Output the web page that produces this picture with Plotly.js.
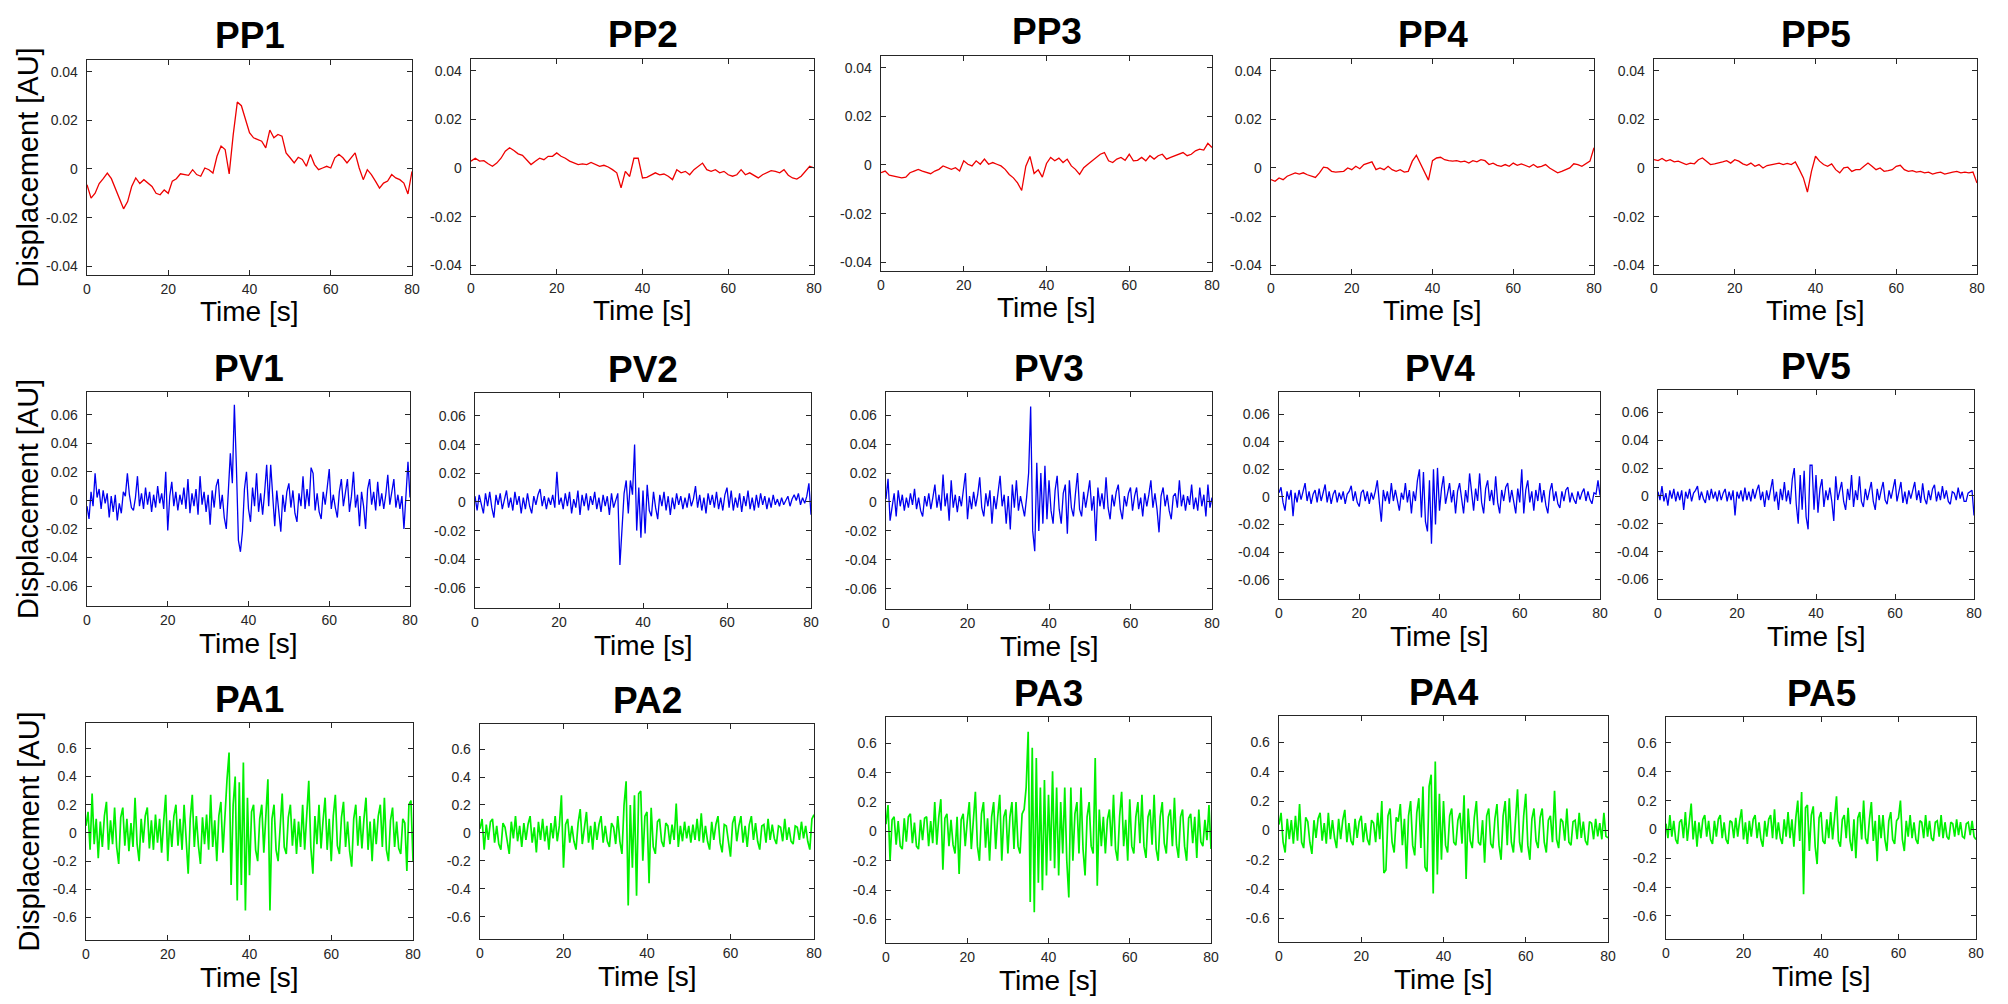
<!DOCTYPE html>
<html>
<head>
<meta charset="utf-8">
<script src="https://cdn.plot.ly/plotly-3.0.1.min.js"></script>
<style>
  body { margin: 0; background: #fff; }
  #myDiv { width: 2008px; height: 1004px; }
</style>
</head>
<body>
<div id="myDiv"></div>
<script>
// signals read off the picture, position (PP*) sampled every 1 s,
// velocity (PV*) and acceleration (PA*) every 0.5 s, all over 0..80 s
let pp1 = [
  -0.0065, -0.012, -0.010, -0.006, -0.004, -0.0017, -0.004, -0.008, -0.0127, -0.0164,
  -0.0134, -0.0072, -0.0037, -0.006, -0.0044, -0.006, -0.0072, -0.010, -0.0106, -0.0086,
  -0.010, -0.005, -0.004, -0.002, -0.0023, -0.0026, -0.0003, -0.0023, -0.003, 0.0004,
  -0.0003, -0.0017, 0.0052, 0.0094, 0.008, -0.002, 0.0142, 0.0275, 0.026, 0.0205,
  0.0149, 0.0128, 0.0121, 0.0114, 0.0087, 0.016, 0.0128, 0.0142, 0.0135, 0.0066,
  0.0046, 0.0025, 0.0048, 0.0039, 0.0011, 0.006, 0.0018, -0.0003, 0.0004, 0.0011,
  0.0004, 0.0046, 0.006, 0.0046, 0.0025, 0.0046, 0.0066, 0.0004, -0.0044, -0.0003,
  -0.0023, -0.005, -0.0079, -0.0058, -0.005, -0.0023, -0.0037, -0.0044, -0.0058, -0.0103,
  -0.001
];
let pp2 = [
  0.0028, 0.004, 0.0028, 0.003, 0.0017, 0.0007, 0.002, 0.004, 0.0069, 0.0083,
  0.0072, 0.0058, 0.0052, 0.0034, 0.0014, 0.0028, 0.004, 0.0034, 0.0048, 0.0048,
  0.0062, 0.0048, 0.004, 0.0028, 0.002, 0.0014, 0.0017, 0.0014, 0.0023, 0.0014,
  0.0007, 0.0011, 0.0004, -0.0007, -0.002, -0.0082, -0.0014, -0.0035, 0.004, 0.004,
  -0.0041, -0.0039, -0.0028, -0.002, -0.0028, -0.0025, -0.0034, -0.0048, -0.0007, -0.002,
  -0.0014, -0.0028, -0.0007, 0.0007, 0.002, -0.0007, -0.0014, -0.0007, -0.002, -0.0014,
  -0.0028, -0.0034, -0.0028, -0.0007, -0.0028, -0.002, -0.003, -0.0041, -0.0028, -0.002,
  -0.0011, -0.0014, -0.002, -0.0007, -0.003, -0.0041, -0.0046, -0.0034, -0.0014, 0.0007,
  0
];
let pp3 = [
  -0.0032, -0.0025, -0.0042, -0.0046, -0.005, -0.0053, -0.005, -0.0032, -0.0025, -0.0018,
  -0.0025, -0.0032, -0.0036, -0.0025, -0.0018, -0.0004, -0.0011, -0.0018, -0.0011, -0.0025,
  0.0017, 0.0003, -0.0004, 0.0017, 0.0003, 0.0024, 0.0003, 0.001, 0.0003, -0.0004,
  -0.0018, -0.0039, -0.0053, -0.0074, -0.0105, -0.0005, 0.0035, -0.0035, -0.002, -0.005,
  0.0006, 0.0031, 0.0017, 0.0028, 0.001, 0.0024, -0.0004, -0.0018, -0.0039, -0.0011,
  0.0003, 0.0017, 0.0031, 0.0044, 0.0051, 0.0017, 0.001, 0.0024, 0.0031, 0.0019,
  0.0044, 0.0017, 0.0019, 0.0031, 0.0017, 0.0038, 0.0024, 0.0038, 0.0044, 0.0024,
  0.0031, 0.0038, 0.0044, 0.0051, 0.0038, 0.0044, 0.0058, 0.0065, 0.0061, 0.0089,
  0.0072
];
let pp4 = [
  -0.0048, -0.0055, -0.0041, -0.0048, -0.0034, -0.0028, -0.002, -0.0025, -0.002, -0.0028,
  -0.0034, -0.0039, -0.002, 0.0003, 0, -0.0014, -0.0017, -0.0014, -0.0014, 0,
  -0.0007, 0.0007, -0.0003, 0.0014, 0.002, 0.0025, -0.0007, 0, -0.0007, 0.0007,
  -0.0007, -0.0014, -0.0007, -0.0017, -0.0014, 0.0028, 0.0052, 0.002, -0.0015, -0.005,
  0.003, 0.0041, 0.0044, 0.0034, 0.003, 0.0028, 0.003, 0.0025, 0.0028, 0.002,
  0.003, 0.0025, 0.0034, 0.003, 0.0014, 0.002, 0.0011, 0.0007, 0.0014, 0.0007,
  0.002, 0.0011, 0.0017, 0.001, 0.0004, 0.0014, 0.0003, 0.0007, 0.0014, 0,
  -0.0011, -0.002, -0.0014, -0.0007, 0, 0.0017, 0.0014, 0.0007, 0.0017, 0.0028,
  0.0083
];
let pp5 = [
  0.0034, 0.003, 0.0039, 0.0028, 0.0034, 0.0025, 0.0028, 0.002, 0.0014, 0.002,
  0.0017, 0.0034, 0.0041, 0.0028, 0.0014, 0.0017, 0.002, 0.0025, 0.003, 0.002,
  0.0034, 0.0028, 0.0017, 0.0011, 0.002, 0.0007, 0.0014, 0, 0.001, 0.0014,
  0.0017, 0.002, 0.0014, 0.0019, 0.0014, 0.0025, -0.0007, -0.0041, -0.0099, -0.0014,
  0.0048, 0.0028, 0.0014, 0.0007, 0.0017, -0.0007, -0.002, 0, 0.0003, -0.0014,
  -0.0007, -0.0007, 0.0007, 0.002, 0.0007, -0.0007, 0, -0.0014, -0.0011, -0.0007,
  0.0007, 0.0011, -0.0007, -0.0014, -0.0011, -0.0017, -0.0014, -0.002, -0.0017, -0.0025,
  -0.002, -0.0017, -0.0025, -0.002, -0.0017, -0.0014, -0.002, -0.0017, -0.002, -0.0017,
  -0.0062
];

let pv1 = [
  -0.004, -0.013, 0.006, -0.004, 0.019, 0.002, 0.008, -0.006, 0.007, -0.002,
  0.005, -0.012, 0.003, -0.008, 0.004, -0.014, -0.002, -0.009, 0.006, 0.003,
  0.019, 0.004, -0.005, -0.007, 0.002, 0.017, -0.004, 0.005, -0.006, 0.009,
  -0.003, 0.006, -0.008, 0.004, -0.005, 0.01, -0.002, 0.005, -0.006, 0.02,
  -0.021, 0.003, 0.013, -0.004, 0.006, -0.007, 0.004, -0.003, 0.009, -0.006,
  0.015, -0.009, 0.005, -0.004, 0.008, -0.01, 0.017, -0.003, 0.006, -0.008,
  0.004, -0.017, 0.007, -0.005, 0.01, 0.015, -0.006, 0.004, -0.012, -0.02,
  0.006, 0.033, 0.012, 0.067, 0.024, -0.028, -0.036, -0.022, 0.008, 0.02,
  -0.006, -0.015, 0.009, -0.004, 0.019, -0.008, 0.005, -0.01, 0.006, 0.025,
  -0.004, 0.025, 0.003, -0.018, 0.007, -0.006, -0.022, 0.004, -0.008, 0.006,
  0.012, -0.005, 0.007, -0.009, -0.015, 0.005, -0.004, 0.017, -0.006, 0.008,
  -0.004, 0.023, 0.019, -0.007, 0.005, -0.008, -0.013, 0.006, -0.003, 0.009,
  0.022, -0.006, 0.004, -0.005, -0.012, 0.006, 0.015, -0.004, 0.007, 0.015,
  -0.008, 0.003, 0.02, -0.005, 0.004, -0.018, 0.006, -0.004, -0.02, 0.008,
  0.015, -0.003, 0.006, -0.007, 0.013, -0.004, 0.005, -0.006, 0.004, 0.018,
  -0.003, 0.006, 0.015, -0.005, 0.004, -0.006, 0.003, -0.02, 0.008, 0.027,
  0.002
];
let pv2 = [
  0.004, -0.006, 0.005, -0.002, -0.008, 0.006, -0.003, 0.007, -0.004, -0.011,
  0.005, -0.002, 0.006, -0.005, 0.002, 0.008, -0.004, 0.003, -0.006, 0.007,
  -0.002, 0.004, -0.008, 0.003, -0.005, 0.006, -0.003, -0.008, 0.004, -0.002,
  0.005, 0.009, -0.003, 0.004, -0.005, 0.003, -0.002, 0.005, -0.004, 0.021,
  -0.002, 0.003, -0.005, 0.006, -0.003, 0.007, -0.008, 0.002, -0.004, 0.008,
  -0.009, 0.005, -0.003, 0.006, -0.006, 0.004, -0.002, 0.007, -0.005, 0.003,
  -0.007, 0.005, -0.003, 0.004, -0.009, 0.006, -0.004, 0.002, 0.006, -0.044,
  -0.018, 0.006, 0.015, -0.008, 0.015, 0.005, 0.04, -0.02, 0.01, -0.025,
  0.008, -0.022, 0.012, -0.006, -0.01, 0.007, -0.004, -0.012, 0.005, -0.003,
  0.007, -0.006, 0.004, -0.009, 0.003, -0.005, 0.006, -0.002, 0.004, -0.005,
  0.003, -0.004, 0.006, -0.003, 0.002, 0.011, -0.004, 0.005, -0.006, 0.003,
  -0.008, 0.006, -0.002, 0.005, -0.004, 0.007, -0.005, 0.003, -0.006, 0.005,
  0.01, -0.004, 0.008, -0.006, 0.003, -0.004, 0.006, -0.007, 0.004, -0.003,
  0.008, -0.005, 0.003, -0.006, 0.005, -0.004, 0.006, -0.002, 0.004, -0.005,
  0.003, -0.004, 0.005, -0.002, 0.002, -0.003, 0.003, -0.002, 0.001, 0.004,
  -0.003, 0.002, 0.005, 0.001, 0.006, -0.002, 0.003, -0.001, 0.004, 0.013,
  -0.009
];
let pv3 = [
  0.002, 0.016, -0.013, -0.004, 0.006, -0.01, 0.008, -0.003, 0.005, -0.006,
  0.003, -0.004, 0.006, -0.002, 0.009, -0.005, 0.003, -0.006, -0.01, 0.004,
  -0.003, 0.006, -0.005, 0.003, 0.012, -0.004, 0.005, -0.006, 0.019, -0.003,
  0.006, -0.013, 0.015, -0.004, 0.005, -0.007, 0.004, -0.003, 0.007, 0.02,
  -0.012, 0.004, -0.005, 0.007, -0.003, 0.005, 0.017, -0.004, -0.01, 0.006,
  -0.003, 0.008, -0.015, 0.004, -0.005, 0.006, 0.018, -0.003, 0.005, -0.015,
  0.004, -0.019, 0.012, -0.004, 0.015, -0.006, 0.004, -0.003, -0.01, 0.003,
  0.02, 0.066, -0.02, -0.034, 0.027, -0.02, 0.02, -0.015, 0.025, -0.012,
  0.015, -0.006, -0.015, 0.008, 0.018, -0.005, -0.015, 0.006, 0.012, -0.022,
  0.015, -0.004, -0.01, 0.006, 0.02, -0.005, -0.01, 0.007, -0.004, 0.005,
  0.015, -0.006, 0.004, -0.027, 0.01, -0.003, 0.006, -0.005, 0.017, -0.004,
  -0.012, 0.005, -0.003, 0.007, 0.012, -0.005, -0.012, 0.004, -0.003, 0.006,
  0.01, -0.006, 0.004, 0.01, -0.005, 0.003, -0.01, 0.006, -0.003, 0.005,
  0.015, -0.004, 0.006, -0.005, -0.021, 0.004, 0.01, -0.003, 0.005, -0.006,
  -0.012, 0.004, 0.006, -0.004, 0.015, -0.003, 0.005, -0.006, 0.004, -0.002,
  0.012, -0.005, 0.003, -0.006, 0.01, -0.003, 0.005, -0.01, 0.012, -0.004,
  0.003
];
let pv4 = [
  0.003, 0.007, -0.004, -0.01, 0.004, -0.002, 0.005, -0.014, 0.003, -0.004,
  0.005, -0.002, 0.004, 0.01, -0.003, 0.004, -0.005, 0.002, 0.005, -0.004,
  0.006, -0.003, 0.003, 0.009, -0.004, 0.004, -0.005, 0.002, 0.005, -0.004,
  0.003, -0.002, 0.004, -0.005, 0.002, 0.004, 0.008, -0.003, 0.004, -0.004,
  -0.007, 0.003, 0.005, -0.003, 0.004, -0.005, 0.003, -0.002, 0.004, 0.012,
  -0.004, -0.018, 0.005, -0.003, 0.004, -0.005, 0.01, -0.003, 0.005, -0.004,
  -0.01, 0.003, -0.002, 0.01, -0.004, 0.005, -0.012, 0.004, -0.003, 0.012,
  0.02, -0.015, 0.018, -0.018, -0.025, 0.012, -0.034, 0.02, -0.02, 0.021,
  -0.01, 0.006, 0.015, -0.005, 0.004, 0.01, -0.004, 0.005, -0.012, 0.004,
  0.01, -0.003, -0.012, 0.005, -0.004, 0.017, 0.003, -0.01, 0.006, -0.003,
  0.017, -0.004, -0.012, 0.006, 0.012, -0.003, 0.005, -0.006, 0.015, -0.004,
  -0.012, 0.005, -0.003, 0.007, 0.01, -0.004, 0.005, -0.003, -0.012, 0.006,
  -0.004, 0.02, -0.012, 0.005, 0.012, -0.004, 0.004, -0.01, 0.005, -0.003,
  0.01, -0.004, 0.005, -0.006, -0.012, 0.004, 0.01, -0.003, 0.004, -0.005,
  -0.008, 0.004, -0.003, 0.005, 0.007, -0.004, 0.003, -0.002, -0.005, 0.004,
  -0.002, 0.003, 0.006, -0.003, 0.004, -0.002, -0.005, 0.003, 0.002, 0.012,
  0.001
];
let pv5 = [
  0.003, -0.003, 0.007, -0.004, 0.002, -0.007, 0.004, -0.002, 0.005, -0.004,
  0.003, -0.003, 0.004, -0.01, 0.003, -0.002, 0.005, -0.004, 0.002, 0.004,
  0.007, -0.003, 0.003, -0.002, -0.005, 0.004, -0.003, 0.005, -0.002, 0.003,
  -0.004, 0.004, -0.003, 0.002, 0.005, -0.004, 0.003, -0.003, 0.004, -0.014,
  0.003, -0.002, 0.004, -0.004, 0.006, -0.003, 0.003, -0.004, 0.005, -0.002,
  0.004, 0.008, -0.003, 0.003, -0.008, 0.004, -0.003, 0.005, 0.012, -0.004,
  0.003, -0.01, 0.005, -0.003, 0.01, -0.004, 0.004, -0.006, 0.012, 0.02,
  -0.006, -0.02, 0.015, -0.01, 0.018, -0.015, -0.024, 0.022, 0.022, -0.01,
  0.015, -0.012, 0.005, 0.012, -0.008, 0.004, -0.003, 0.006, -0.004, -0.018,
  0.014, -0.003, 0.004, 0.01, -0.004, -0.01, 0.005, -0.003, 0.015, -0.008,
  0.004, -0.003, 0.014, -0.004, -0.008, 0.005, -0.003, 0.004, 0.01, -0.004,
  -0.01, 0.005, -0.003, 0.004, 0.01, -0.003, -0.006, 0.004, -0.002, 0.005,
  0.012, -0.004, 0.003, 0.01, -0.005, 0.003, -0.006, 0.004, -0.002, 0.005,
  0.01, -0.003, 0.004, -0.005, 0.009, -0.002, -0.006, 0.004, -0.003, 0.005,
  0.008, -0.004, 0.003, -0.003, 0.007, -0.002, 0.004, -0.004, -0.006, 0.003,
  0.002, -0.003, 0.006, -0.002, 0.003, -0.004, -0.004, 0.002, 0.003, 0.004,
  -0.014
];

let pa1 = [
  0.05, 0.15, -0.12, 0.28, -0.08, 0.1, -0.18, 0.08, -0.1, 0.12,
  0.22, -0.12, 0.09, -0.08, 0.18, -0.1, -0.22, 0.11, 0.18, -0.09,
  0.1, -0.13, 0.07, -0.1, 0.25, -0.08, -0.2, 0.1, -0.07, 0.12,
  0.18, -0.11, 0.09, -0.12, 0.13, -0.07, 0.1, -0.14, 0.08, 0.27,
  -0.2, 0.09, -0.1, 0.12, 0.2, -0.09, 0.1, -0.12, 0.2, -0.08,
  -0.29, 0.1, 0.27, -0.1, 0.12, -0.09, -0.22, 0.11, -0.08, 0.13,
  -0.12, 0.27, -0.1, 0.09, -0.2, 0.12, 0.22, -0.14, 0.15, 0.38,
  0.57, -0.37, 0.2, 0.4, -0.48, 0.36, -0.37, 0.5, -0.55, 0.25,
  -0.3, 0.15, 0.2, -0.12, -0.2, 0.1, 0.2, -0.14, 0.12, 0.38,
  -0.55, 0.1, 0.2, -0.12, -0.2, 0.09, 0.28, -0.1, -0.15, 0.11,
  0.2, -0.09, 0.1, -0.15, 0.08, -0.1, 0.2, -0.12, 0.1, 0.37,
  -0.1, -0.29, 0.12, -0.08, 0.2, -0.11, 0.09, 0.25, -0.12, 0.1,
  -0.2, 0.12, 0.27, -0.09, -0.15, 0.11, 0.22, -0.1, 0.08, -0.13,
  -0.24, 0.1, 0.2, -0.09, 0.12, -0.11, 0.1, 0.25, -0.12, 0.08,
  -0.2, 0.1, -0.08, 0.12, 0.2, -0.1, 0.25, -0.12, -0.2, 0.09,
  0.18, -0.1, 0.08, -0.11, -0.15, 0.1, 0.07, -0.27, 0.2, 0.23,
  -0.2
];
let pa2 = [
  0.03, 0.1, -0.12, 0.06, -0.05, 0.08, 0.1, -0.07, 0.05, -0.08,
  -0.12, 0.07, 0.04, -0.06, -0.15, 0.08, -0.04, 0.12, -0.06, 0.05,
  -0.1, 0.07, -0.05, 0.06, 0.12, -0.07, 0.04, -0.14, 0.08, -0.05,
  0.1, -0.06, 0.05, -0.12, 0.07, -0.04, 0.12, -0.06, 0.05, 0.27,
  -0.25, 0.06, 0.1, -0.07, 0.05, -0.06, -0.12, 0.07, 0.17, -0.08,
  0.06, 0.15, -0.07, 0.05, -0.12, 0.08, -0.05, 0.06, 0.12, -0.07,
  0.05, -0.06, -0.1, 0.07, 0.04, -0.08, 0.12, -0.06, -0.15, 0.2,
  0.37, -0.52, 0.2, -0.25, 0.27, -0.45, 0.28, 0.3, -0.2, 0.12,
  0.15, -0.36, 0.18, -0.1, -0.15, 0.08, 0.1, -0.06, -0.1, 0.07,
  0.05, -0.08, 0.06, -0.05, 0.21, -0.1, 0.05, -0.06, 0.08, -0.04,
  0.05, -0.07, 0.06, -0.05, 0.1, -0.06, 0.14, -0.07, 0.05, -0.06,
  -0.12, 0.08, -0.05, 0.06, 0.12, -0.07, -0.14, 0.06, 0.05, -0.08,
  -0.17, 0.07, 0.12, -0.06, 0.05, 0.12, -0.07, 0.05, -0.1, 0.06,
  0.12, -0.05, 0.07, -0.06, -0.12, 0.05, 0.06, -0.07, 0.1, -0.05,
  0.06, -0.04, -0.08, 0.05, 0.04, -0.06, 0.1, -0.05, 0.04, -0.06,
  -0.08, 0.05, 0.04, -0.05, 0.08, -0.04, 0.05, -0.06, -0.12, 0.1,
  0.13
];
let pa3 = [
  0.05, 0.18, -0.2, 0.08, 0.1, -0.09, 0.07, -0.1, -0.12, 0.09,
  -0.07, 0.1, 0.12, -0.08, 0.06, -0.1, -0.12, 0.08, -0.06, 0.09,
  0.1, -0.1, 0.07, -0.08, 0.2, -0.09, 0.1, 0.22, -0.26, 0.09,
  0.12, -0.1, 0.08, -0.09, -0.15, 0.1, -0.29, 0.08, 0.12, -0.1,
  0.07, 0.2, -0.12, 0.1, 0.27, -0.1, -0.2, 0.12, 0.2, -0.11,
  0.09, -0.2, 0.1, 0.2, -0.12, 0.1, 0.25, -0.2, 0.1, 0.15,
  -0.15, 0.1, 0.2, -0.12, 0.2, -0.1, -0.15, 0.12, 0.15, 0.3,
  0.68, -0.48, 0.57, -0.55, 0.5, -0.35, 0.3, -0.4, 0.35, -0.3,
  0.25, -0.2, 0.41, -0.25, 0.3, -0.3, 0.2, -0.15, 0.3, -0.2,
  -0.45, 0.3, -0.2, 0.12, 0.2, -0.15, 0.3, -0.12, -0.3, 0.1,
  0.2, -0.1, -0.15, 0.5, -0.37, 0.15, -0.1, 0.1, -0.15, 0.08,
  0.15, -0.1, 0.25, -0.12, -0.2, 0.1, 0.27, -0.1, 0.08, -0.2,
  0.22, -0.1, -0.15, 0.1, 0.2, -0.08, 0.25, -0.1, -0.18, 0.1,
  0.15, -0.09, 0.25, -0.12, -0.2, 0.1, 0.2, -0.08, -0.15, 0.1,
  0.15, -0.1, 0.23, -0.09, -0.18, 0.1, 0.15, -0.1, -0.2, 0.09,
  0.12, -0.08, 0.1, -0.18, 0.15, -0.07, -0.1, 0.08, -0.06, 0.18,
  -0.12
];
let pa4 = [
  0.04, 0.12, -0.08, -0.15, 0.08, -0.06, 0.07, -0.09, 0.1, -0.07,
  0.18, -0.08, -0.12, 0.09, 0.06, -0.08, -0.16, 0.07, -0.05, 0.08,
  0.12, -0.07, 0.05, -0.09, 0.12, -0.06, 0.07, -0.05, -0.12, 0.08,
  -0.06, 0.07, 0.14, -0.08, 0.05, -0.07, -0.1, 0.08, -0.05, 0.06,
  0.1, -0.08, 0.05, -0.06, -0.1, 0.07, 0.05, -0.08, 0.12, -0.06,
  0.2, -0.29, -0.27, 0.1, 0.15, -0.08, -0.15, 0.09, 0.06, 0.18,
  -0.1, 0.08, -0.26, 0.1, 0.2, -0.1, -0.17, 0.12, 0.22, -0.12,
  0.3, -0.25, -0.28, 0.3, 0.38, -0.43, 0.47, -0.3, 0.25, -0.2,
  0.2, -0.1, -0.15, 0.1, 0.15, -0.08, -0.1, 0.07, 0.12, -0.09,
  0.24, -0.33, 0.15, -0.07, -0.12, 0.09, 0.2, -0.08, -0.1, 0.07,
  -0.22, 0.1, 0.15, -0.09, -0.12, 0.08, 0.18, -0.1, -0.2, 0.1,
  0.2, -0.1, 0.22, -0.08, -0.15, 0.1, 0.28, -0.08, -0.15, 0.1,
  0.25, -0.1, -0.2, 0.08, 0.15, -0.07, -0.12, 0.09, 0.15, -0.08,
  -0.15, 0.07, 0.1, -0.08, 0.27, -0.06, -0.12, 0.08, 0.06, -0.07,
  0.15, -0.08, -0.1, 0.06, 0.07, -0.06, 0.12, -0.05, 0.06, -0.07,
  -0.1, 0.06, 0.05, -0.06, 0.08, -0.04, 0.05, -0.06, 0.12, -0.04,
  -0.05
];
let pa5 = [
  0.04, -0.06, 0.1, -0.05, 0.06, -0.07, -0.1, 0.05, 0.07, -0.06,
  0.12, -0.08, 0.05, 0.18, -0.07, 0.06, -0.12, 0.05, -0.06, 0.07,
  0.1, -0.05, 0.06, -0.07, -0.1, 0.06, -0.05, 0.07, 0.1, -0.06,
  0.05, -0.07, -0.1, 0.06, 0.05, -0.06, 0.08, -0.05, 0.06, 0.14,
  -0.07, 0.05, -0.1, 0.06, -0.05, 0.07, 0.1, -0.06, 0.05, -0.07,
  -0.12, 0.06, -0.05, 0.07, 0.1, -0.06, 0.14, -0.07, 0.05, -0.06,
  -0.1, 0.07, -0.05, 0.12, -0.06, 0.07, -0.12, 0.08, 0.2, -0.08,
  0.26, -0.45, 0.15, 0.17, -0.15, 0.1, 0.16, -0.12, -0.24, 0.08,
  0.12, -0.08, -0.1, 0.07, -0.06, 0.12, -0.07, 0.08, 0.23, -0.08,
  -0.12, 0.07, 0.1, -0.06, 0.15, -0.08, -0.15, 0.07, -0.2, 0.08,
  0.12, -0.07, 0.2, -0.06, -0.1, 0.07, 0.19, -0.08, 0.06, -0.22,
  0.1, -0.06, 0.1, -0.07, -0.15, 0.06, 0.12, -0.07, -0.1, 0.06,
  0.08, 0.2, -0.07, -0.15, 0.06, -0.05, 0.1, -0.06, 0.05, -0.07,
  -0.1, 0.06, 0.05, -0.06, 0.1, -0.05, 0.06, -0.06, -0.08, 0.05,
  0.06, -0.05, 0.1, -0.06, 0.05, -0.05, -0.07, 0.05, 0.04, -0.05,
  0.07, -0.04, 0.05, -0.05, -0.06, 0.04, 0.05, -0.04, 0.06, -0.05,
  -0.07
];

let titles = ["PP1", "PP2", "PP3", "PP4", "PP5",
              "PV1", "PV2", "PV3", "PV4", "PV5",
              "PA1", "PA2", "PA3", "PA4", "PA5"];
let signals = [pp1, pp2, pp3, pp4, pp5, pv1, pv2, pv3, pv4, pv5, pa1, pa2, pa3, pa4, pa5];

let xTicks = [0, 20, 40, 60, 80];
let xTickText = ["0", "20", "40", "60", "80"];
let ppTicks = [-0.04, -0.02, 0, 0.02, 0.04];
let ppTickText = ["-0.04", "-0.02", "0", "0.02", "0.04"];
let pvTicks = [-0.06, -0.04, -0.02, 0, 0.02, 0.04, 0.06];
let pvTickText = ["-0.06", "-0.04", "-0.02", "0", "0.02", "0.04", "0.06"];
let paTicks = [-0.6, -0.4, -0.2, 0, 0.2, 0.4, 0.6];
let paTickText = ["-0.6", "-0.4", "-0.2", "0", "0.2", "0.4", "0.6"];

let xLabel = "Time [s]";
let yLabel = "Displacement [AU]";

// layout only from here on
const W = 2008, H = 1004;
const font = "Liberation Sans, Arial, Helvetica, sans-serif";
const ink = "#262626";

// plot frames in page pixels: [left, top, right, bottom]
const frames = [
  [87, 60, 412, 275], [471, 59, 814, 274], [881, 56, 1212, 271], [1271, 59, 1594, 274], [1654, 59, 1977, 274],
  [87, 392, 410, 606], [475, 393, 811, 608], [886, 392, 1212, 609], [1279, 392, 1600, 599], [1658, 390, 1974, 599],
  [86, 723, 413, 940], [480, 724, 814, 939], [886, 717, 1211, 943], [1279, 716, 1608, 942], [1666, 717, 1976, 939]
];
const rows = [
  { range: [-0.0436, 0.0448], ticks: ppTicks, text: ppTickText, color: "#ee0000", width: 1.3 },
  { range: [-0.074, 0.076], ticks: pvTicks, text: pvTickText, color: "#0000f0", width: 1.3 },
  { range: [-0.76, 0.78], ticks: paTicks, text: paTickText, color: "#00f000", width: 1.7 }
];

let data = [];
let layout = {
  width: W,
  height: H,
  autosize: false,
  margin: { l: 0, r: 0, t: 0, b: 0 },
  paper_bgcolor: "#fff",
  plot_bgcolor: "#fff",
  showlegend: false,
  annotations: []
};

function px(x) { return x / W; }
function py(y) { return 1 - y / H; }

signals.forEach((ys, k) => {
  let n = k + 1;
  let row = rows[Math.floor(k / 5)];
  let f = frames[k];
  let dt = 80 / (ys.length - 1);
  let ts = ys.map((_, i) => i * dt);

  data.push({
    x: ts,
    y: ys,
    xaxis: n === 1 ? "x" : "x" + n,
    yaxis: n === 1 ? "y" : "y" + n,
    type: "scatter",
    mode: "lines",
    line: { color: row.color, width: row.width },
    hoverinfo: "skip"
  });

  let common = {
    showline: true, linecolor: ink, linewidth: 1.3, mirror: "ticks",
    ticks: "inside", ticklen: 5, tickwidth: 1, tickcolor: ink,
    showgrid: false, zeroline: false, fixedrange: true,
    tickfont: { family: font, size: 14, color: ink }
  };

  layout[n === 1 ? "xaxis" : "xaxis" + n] = Object.assign({}, common, {
    domain: [px(f[0]), px(f[2])],
    anchor: n === 1 ? "y" : "y" + n,
    range: [0, 80],
    tickmode: "array", tickvals: xTicks, ticktext: xTickText,
    ticklabelstandoff: 1
  });
  layout[n === 1 ? "yaxis" : "yaxis" + n] = Object.assign({}, common, {
    domain: [py(f[3]), py(f[1])],
    anchor: n === 1 ? "x" : "x" + n,
    range: row.range,
    tickmode: "array", tickvals: row.ticks, ticktext: row.text,
    ticklabelstandoff: 5
  });

  let cx = px((f[0] + f[2]) / 2);
  // panel title
  layout.annotations.push({
    text: "<b>" + titles[k] + "</b>", xref: "paper", yref: "paper",
    x: cx, y: py(f[1] - 24), xanchor: "center", yanchor: "middle",
    showarrow: false, font: { family: font, size: 37, color: "#000" }
  });
  // x axis title
  layout.annotations.push({
    text: xLabel, xref: "paper", yref: "paper",
    x: cx, y: py(f[3] + 37), xanchor: "center", yanchor: "middle",
    showarrow: false, font: { family: font, size: 28, color: "#000" }
  });
  // y axis title, first column only
  if (k % 5 === 0) {
    layout.annotations.push({
      text: yLabel, xref: "paper", yref: "paper",
      x: px(28), y: py((f[1] + f[3]) / 2), xanchor: "center", yanchor: "middle",
      textangle: -90, showarrow: false,
      font: { family: font, size: 29, color: "#000" }
    });
  }
});

Plotly.newPlot("myDiv", data, layout, { staticPlot: true, displayModeBar: false });
</script>
</body>
</html>
